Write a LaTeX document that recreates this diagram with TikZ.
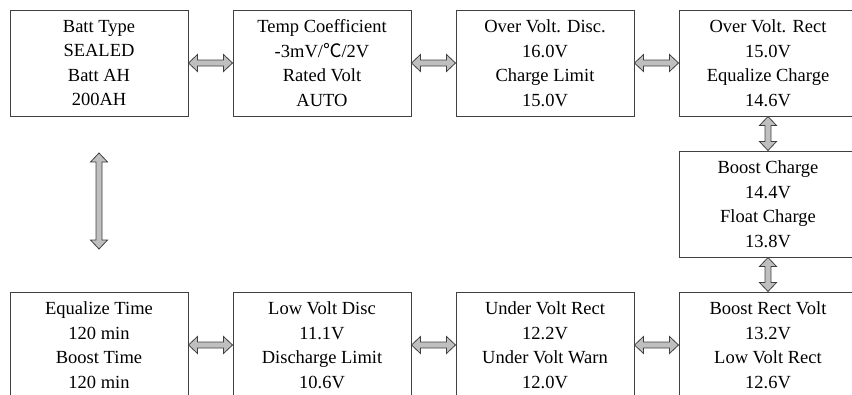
\documentclass[tikz,border=0pt]{standalone}
\usepackage{fontspec}
\setmainfont{Liberation Serif}
\newfontfamily\cjk{Noto Sans CJK SC}
\usetikzlibrary{calc}

\tikzset{
  dblarrow/.style={draw=black!75, fill=black!25, line width=0.8pt, line join=miter,
    to path={
      -- ($(\tikztostart)!9pt!(\tikztotarget)!8.5pt!90:(\tikztotarget)$)
      -- ($(\tikztostart)!9pt!(\tikztotarget)!3pt!90:(\tikztotarget)$)
      -- ($(\tikztotarget)!9pt!(\tikztostart)!3pt!-90:(\tikztostart)$)
      -- ($(\tikztotarget)!9pt!(\tikztostart)!8.5pt!-90:(\tikztostart)$)
      -- (\tikztotarget)
      -- ($(\tikztotarget)!9pt!(\tikztostart)!8.5pt!90:(\tikztostart)$)
      -- ($(\tikztotarget)!9pt!(\tikztostart)!3pt!90:(\tikztostart)$)
      -- ($(\tikztostart)!9pt!(\tikztotarget)!3pt!-90:(\tikztotarget)$)
      -- ($(\tikztostart)!9pt!(\tikztotarget)!8.5pt!-90:(\tikztotarget)$)
      -- cycle}}
}

\begin{document}
\begin{tikzpicture}[x=1pt, y=-1pt,
  cell/.style={draw=black!75, line width=1pt, minimum width=178pt, minimum height=106pt,
    inner sep=0pt, align=center, font=\fontsize{18.5}{24.5}\selectfont}]
\useasboundingbox (0,0) rectangle (852,394);
\clip (0,0) rectangle (852,394);
% top row
\node[cell] (batt) at (99,63) {Batt Type\\SEALED\\Batt AH\\200AH};
\node[cell] (temp) at (322,63) {Temp Coefficient\\-3mV/{\cjk ℃}/2V\\Rated Volt\\AUTO};
\node[cell] (ovd) at (545,63) {Over Volt. Disc.\\16.0V\\Charge Limit\\15.0V};
\node[cell] (ovr) at (768,63) {Over Volt. Rect\\15.0V\\Equalize Charge\\14.6V};
% middle
\node[cell] (boost) at (768,204) {Boost Charge\\14.4V\\Float Charge\\13.8V};
% bottom row
\node[cell] (eqt) at (99,345) {Equalize Time\\120 min\\Boost Time\\120 min};
\node[cell] (lvd) at (322,345) {Low Volt Disc\\11.1V\\Discharge Limit\\10.6V};
\node[cell] (uvr) at (545,345) {Under Volt Rect\\12.2V\\Under Volt Warn\\12.0V};
\node[cell] (brv) at (768,345) {Boost Rect Volt\\13.2V\\Low Volt Rect\\12.6V};

\coordinate (up) at (99,153);
\coordinate (down) at (99,249);

\draw[dblarrow] (batt.east) to (temp.west);
\draw[dblarrow] (temp.east) to (ovd.west);
\draw[dblarrow] (ovd.east) to (ovr.west);
\draw[dblarrow] (ovr.south) to (boost.north);
\draw[dblarrow] (boost.south) to (brv.north);
\draw[dblarrow] (eqt.east) to (lvd.west);
\draw[dblarrow] (lvd.east) to (uvr.west);
\draw[dblarrow] (uvr.east) to (brv.west);
\draw[dblarrow] (up) to (down);
\end{tikzpicture}
\end{document}
